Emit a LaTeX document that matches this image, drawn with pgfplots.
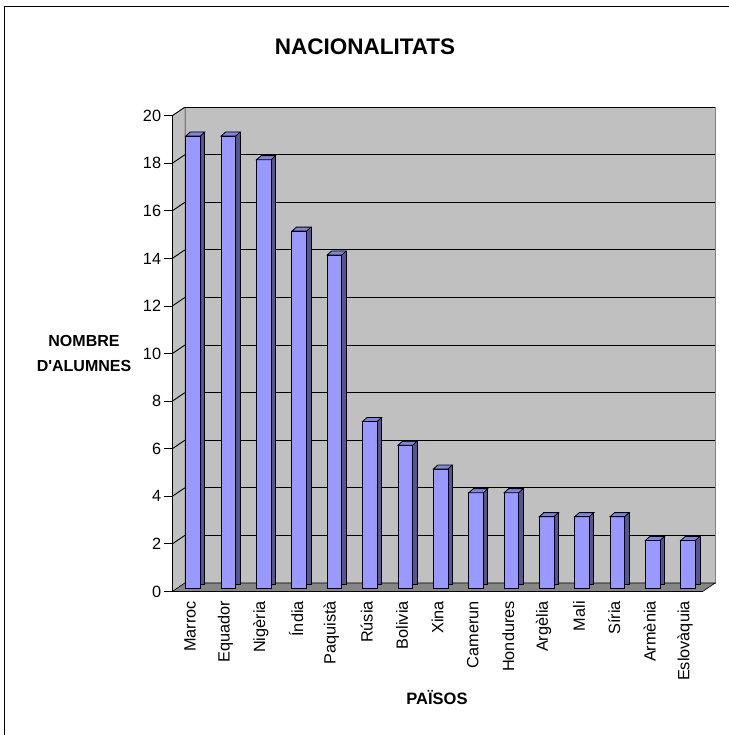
\documentclass[border=0pt]{standalone}
\usepackage{fontspec}
\setmainfont{Liberation Sans}
\usepackage{pgfplots}
\pgfplotsset{compat=1.18}
\usepackage{pgfplotstable}
\definecolor{barfront}{HTML}{9999FF}
\definecolor{barside}{HTML}{55558F}
\definecolor{bartop}{HTML}{8484DC}
\definecolor{wallc}{HTML}{C0C0C0}
\definecolor{floorc}{HTML}{868686}

\pgfdeclareplotmark{topface}{%
 \pgfpathmoveto{\pgfpoint{-7.3bp}{0bp}}%
 \pgfpathlineto{\pgfpoint{7.3bp}{0bp}}%
 \pgfpathlineto{\pgfpoint{11.8bp}{4bp}}%
 \pgfpathlineto{\pgfpoint{-2.8bp}{4bp}}%
 \pgfpathclose\pgfusepathqfillstroke}

\pgfplotstableread{
x y
0.5 19
1.5 19
2.5 18
3.5 15
4.5 14
5.5 7
6.5 6
7.5 5
8.5 4
9.5 4
10.5 3
11.5 3
12.5 3
13.5 2
14.5 2
}\datatable

\begin{document}
\begin{tikzpicture}
\useasboundingbox (0,0) rectangle (729bp,735bp);
\begin{scope}
\clip (0,0) rectangle (729bp,735bp);
\draw[line width=1.2bp] (4.5bp,-5bp) -- (4.5bp,728.5bp) -- (740bp,728.5bp);
\end{scope}
\node[font=\fontsize{22.5bp}{26bp}\selectfont\bfseries] at (365bp,688bp) {NACIONALITATS};
\begin{axis}[
  at={(172.3bp,143.5bp)}, anchor=south west,
  scale only axis, width=530.4bp, height=475.8bp,
  xmin=0, xmax=15, ymin=0, ymax=20,
  clip=false, axis on top,
  axis lines=left, axis line style={-, line width=0.9bp},
  tick align=outside,
  major tick length=8bp, minor tick length=7bp,
  xtick={0.5,1.5,...,14.5},
  xticklabels={Marroc,Equador,Nigèria,Índia,Paquistà,Rúsia,Bolivia,Xina,Camerun,Hondures,Argèlia,Mali,Síria,Armènia,Eslovàquia},
  minor xtick={0,1,...,15},
  xtick style={draw=none},
  minor x tick style={line width=0.9bp, black},
  ytick={0,2,...,20},
  y tick style={line width=0.9bp, black},
  /pgf/number format/assume math mode=true,
  tick label style={font=\fontsize{16.3bp}{19bp}\selectfont},
  xticklabel style={rotate=90, anchor=east, inner sep=1.5bp},
  yticklabel style={inner sep=3bp},
]
\fill[wallc, draw=gray] ([shift={(12.5bp,8.5bp)}]axis cs:0,0) rectangle ([shift={(12.5bp,8.5bp)}]axis cs:15,20);
\fill[wallc, draw=gray] (axis cs:0,0) -- (axis cs:0,20) -- ([shift={(12.5bp,8.5bp)}]axis cs:0,20) -- ([shift={(12.5bp,8.5bp)}]axis cs:0,0) -- cycle;
\filldraw[fill=floorc, draw=black, line width=0.6bp] (axis cs:0,0) -- (axis cs:15,0) -- ([shift={(12.5bp,8.5bp)}]axis cs:15,0) -- ([shift={(12.5bp,8.5bp)}]axis cs:0,0) -- cycle;
\pgfplotsinvokeforeach{2,4,...,20}{
  \draw[black, line width=0.9bp] ([shift={(12.5bp,8.5bp)}]axis cs:0,#1) -- ([shift={(12.5bp,8.5bp)}]axis cs:15,#1);
  \draw[black, line width=0.9bp] (axis cs:0,#1) -- ([shift={(12.5bp,8.5bp)}]axis cs:0,#1);
}
\addplot[ybar, bar width=14.6bp, bar shift=7.6bp, yshift=7.5bp, fill=barside, draw=black, line width=0.8bp] table[x=x,y=y] {\datatable};
\addplot[ybar, bar width=14.6bp, bar shift=3.1bp, yshift=3.5bp, fill=barfront, draw=black, line width=0.8bp] table[x=x,y=y] {\datatable};
\addplot[only marks, mark=topface, xshift=3.1bp, yshift=3.5bp, mark options={fill=bartop, draw=black, line width=0.8bp}] table[x=x,y=y] {\datatable};
\end{axis}
\node[font=\fontsize{16bp}{24.5bp}\selectfont\bfseries, align=center] at (84bp,381.5bp) {NOMBRE\\D\textquotesingle ALUMNES};
\node[font=\fontsize{16.5bp}{19bp}\selectfont\bfseries] at (437bp,37.5bp) {PAÏSOS};
\end{tikzpicture}
\end{document}
